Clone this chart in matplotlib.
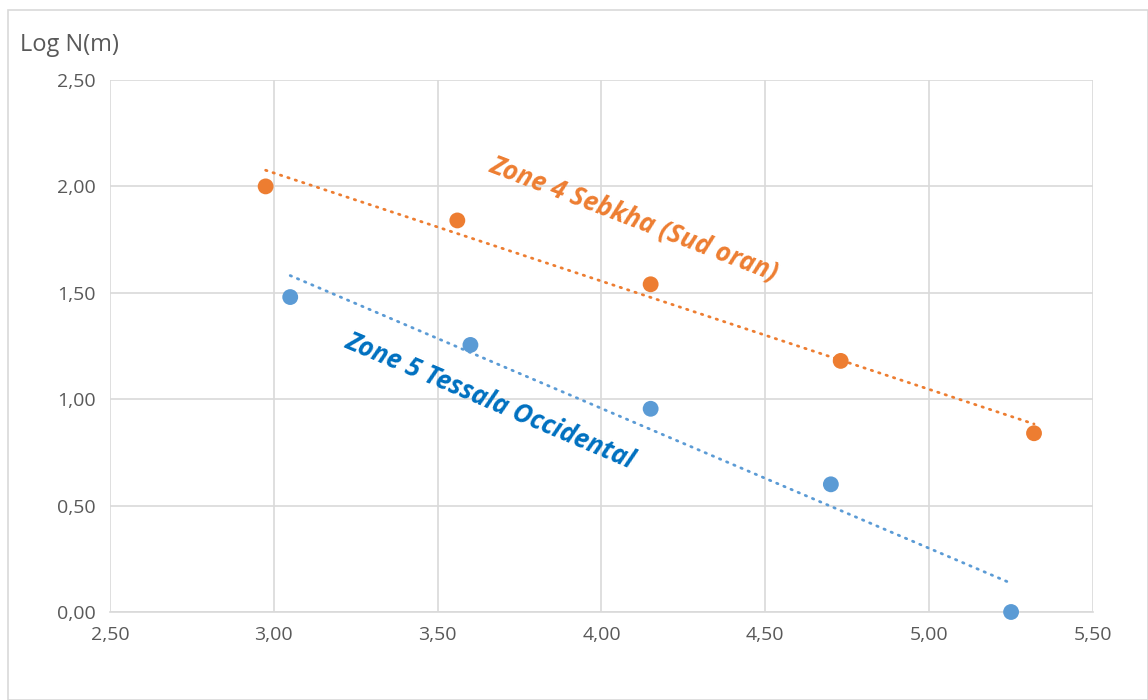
import numpy as np
import matplotlib.pyplot as plt
from matplotlib.patches import Rectangle

plt.rcParams['font.family'] = ['Open Sans', 'DejaVu Sans']

# Zone 4 Sebkha (Sud oran)
x_zone4 = [2.975, 3.56, 4.15, 4.73, 5.32]
y_zone4 = [2.00, 1.84, 1.54, 1.18, 0.84]

# Zone 5 Tessala Occidental
x_zone5 = [3.05, 3.60, 4.15, 4.70, 5.25]
y_zone5 = [1.48, 1.255, 0.955, 0.60, 0.00]

x_ticks = [2.5, 3.0, 3.5, 4.0, 4.5, 5.0, 5.5]
y_ticks = [0.0, 0.5, 1.0, 1.5, 2.0, 2.5]

orange = "#ED7D31"
blue = "#5B9BD5"
blue_text = "#0070C0"
grey = "#595959"

fig = plt.figure(figsize=(11.48, 7), dpi=100)
fig.patches.append(Rectangle((8 / 1148, 0), 1 - 8 / 1148, 1 - 10 / 700, transform=fig.transFigure,
                             fill=False, edgecolor="#D9D9D9", linewidth=1.2))
ax = fig.add_axes([110 / 1148, 88 / 700, 983 / 1148, 532 / 700])

for xs, ys, c in [(x_zone4, y_zone4, orange), (x_zone5, y_zone5, blue)]:
    xs = np.array(xs)
    ys = np.array(ys)
    k, b = np.polyfit(xs, ys, 1)
    ax.plot(xs[[0, -1]], k * xs[[0, -1]] + b, color=c, linewidth=2,
            linestyle=(0, (0.5, 2.3)), dash_capstyle="round", zorder=2)
    ax.scatter(xs, ys, s=130, color=c, edgecolors="none", zorder=3, clip_on=False)

ax.set_xlim(2.5, 5.5)
ax.set_ylim(0, 2.5)
ax.set_xticks(x_ticks)
ax.set_yticks(y_ticks)
ax.set_xticklabels([f"{v:.2f}".replace(".", ",") for v in x_ticks])
ax.set_yticklabels([f"{v:.2f}".replace(".", ",") for v in y_ticks])
ax.tick_params(length=0, labelsize=14, labelcolor=grey, pad=10)
ax.grid(True, color="#D9D9D9", linewidth=1.2)
ax.set_axisbelow(True)
for side in ["top", "right", "left"]:
    ax.spines[side].set_visible(False)
ax.spines["bottom"].set_color("#D9D9D9")
ax.spines["bottom"].set_linewidth(1.2)

fig.text(20 / 1148, 1 - 45 / 700, "Log N(m)", fontsize=17, color=grey, va="center", ha="left")

ax.text(4.10, 1.85, "Zone 4 Sebkha (Sud oran)", color=orange, fontsize=18.5, fontweight="bold",
        fontstyle="italic", rotation=-21, ha="center", va="center", rotation_mode="anchor")
ax.text(3.66, 0.99, "Zone 5 Tessala Occidental", color=blue_text, fontsize=18.5, fontweight="bold",
        fontstyle="italic", rotation=-23, ha="center", va="center", rotation_mode="anchor")

fig.savefig("out.png", dpi=100)
